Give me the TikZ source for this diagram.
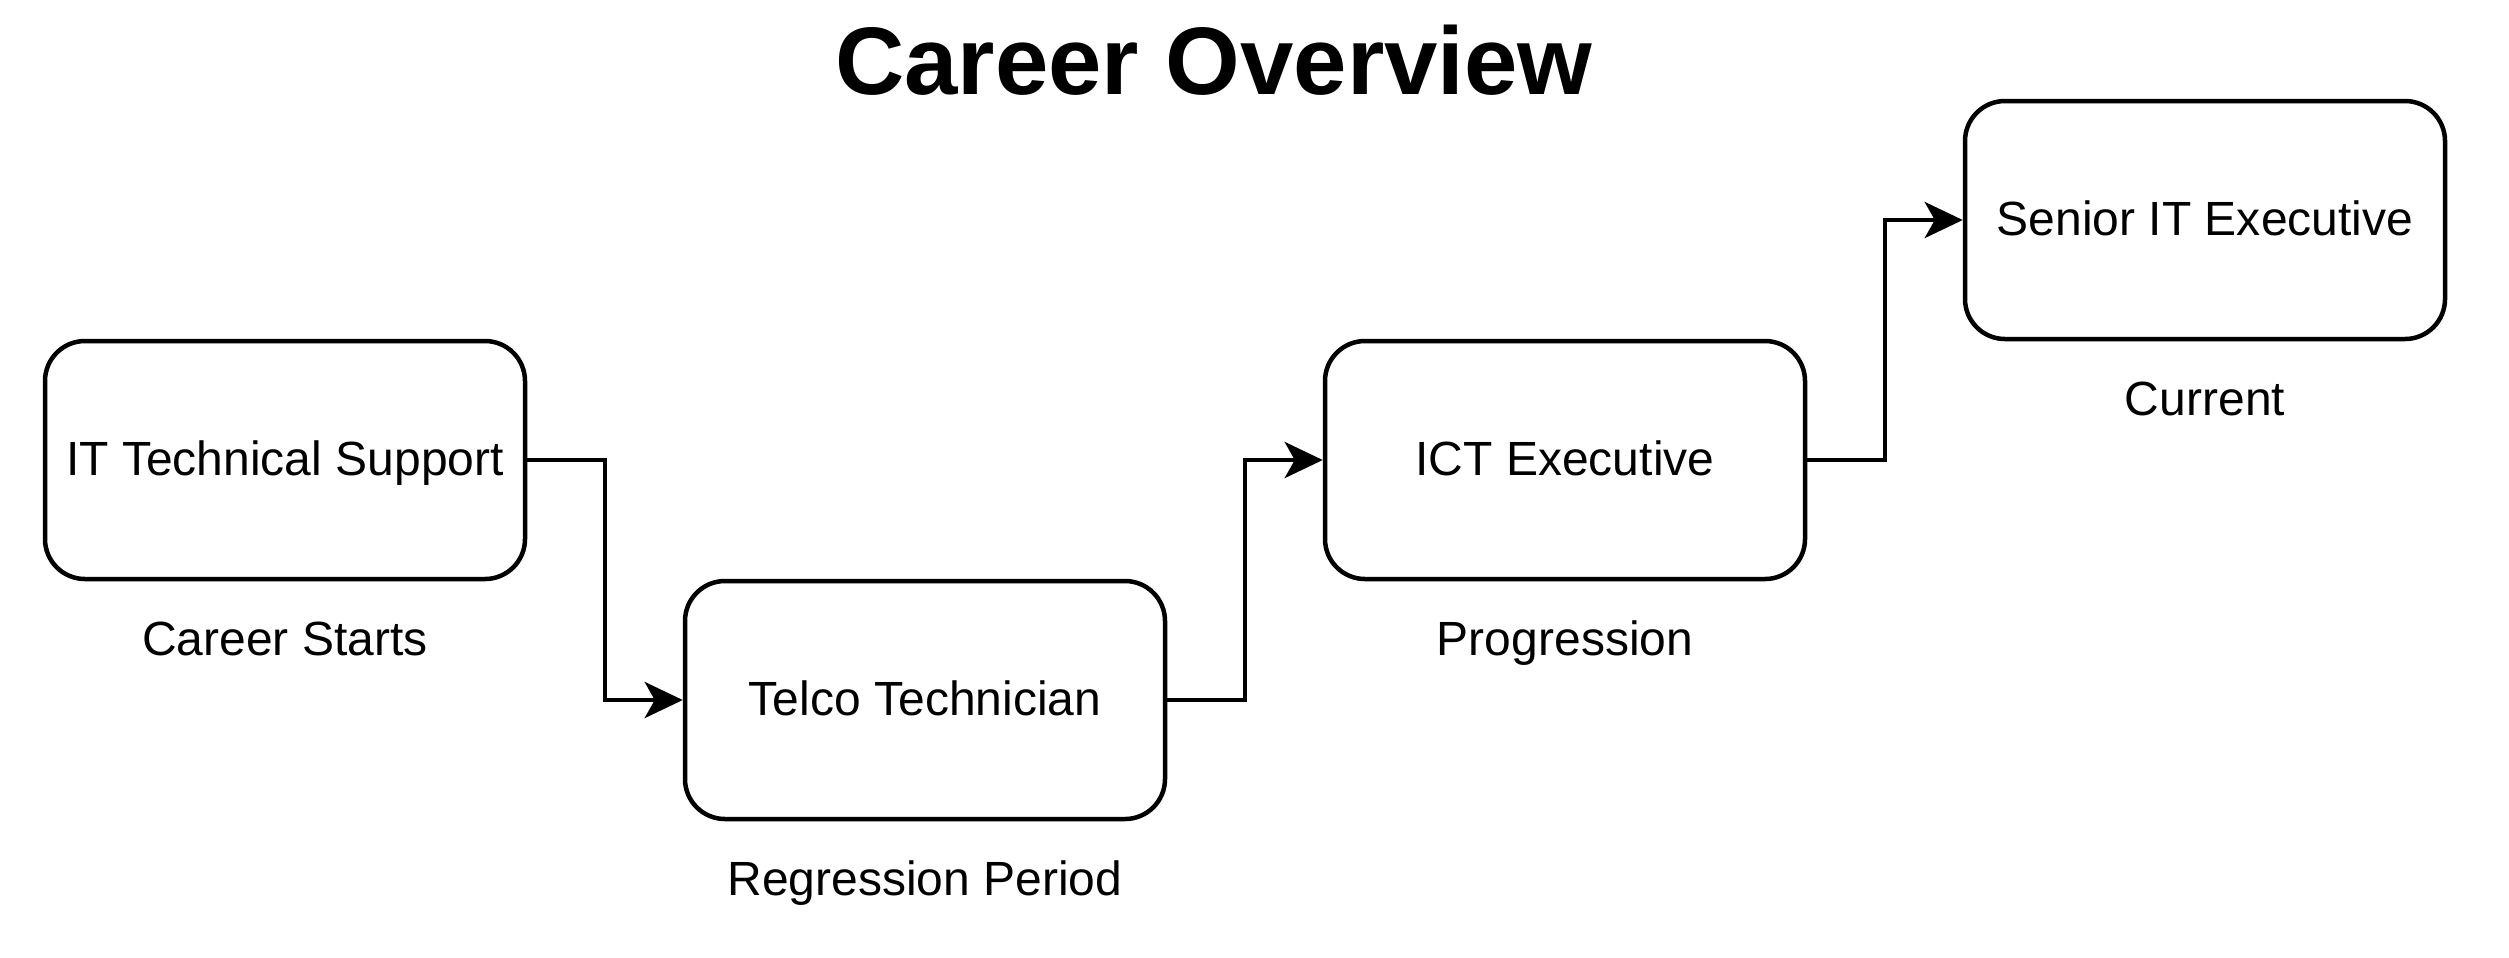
\documentclass[tikz,border=0pt]{standalone}
\usepackage{fontspec}
\setmainfont{Liberation Sans}
\usetikzlibrary{calc,positioning,arrows.meta}
\tikzset{
	stage/.style={draw, line width=0.045cm, rounded corners=0.4cm, minimum width=4.8cm, minimum height=2.38cm, inner sep=0pt, text height=0.31cm, text depth=0pt, font=\fontsize{13.66}{16}\selectfont},
	phase/.style={inner sep=0pt, text height=0.34cm, text depth=0pt, font=\fontsize{13.66}{16}\selectfont},
	link/.style={line width=0.045cm, -{Stealth[length=0.38cm, width=0.36cm, inset=0.1cm]}}
}

\begin{document}
\begin{tikzpicture}
			%%%%% START %%%%%
			
			\useasboundingbox (0, 0) rectangle (25.09, -9.57);
			
			\node[inner sep=0pt, text height=0.69cm, text depth=0pt, font=\fontsize{27.3}{32}\selectfont\bfseries] (title) at (12.14, -0.60) {Career Overview};
			
			\node[stage] (its) at (2.85, -4.60) {IT Technical Support};
			\node[stage] (telco) at (9.25, -7.00) {Telco Technician};
			\node[stage] (ict) at (15.65, -4.60) {ICT Executive};
			\node[stage] (senior) at (22.05, -2.20) {Senior IT Executive};
			
			\node[phase, below=0.40cm of its] (starts) {Career Starts};
			\node[phase, below=0.40cm of telco] (regress) {Regression Period};
			\node[phase, below=0.40cm of ict] (progress) {Progression};
			\node[phase, below=0.40cm of senior] (current) {Current};
			
			\draw[link] (its.east) -| ($(its.east)!0.5!(telco.west)$) |- (telco.west);
			\draw[link] (telco.east) -| ($(telco.east)!0.5!(ict.west)$) |- (ict.west);
			\draw[link] (ict.east) -| ($(ict.east)!0.5!(senior.west)$) |- (senior.west);
			
			%%%%% END %%%%%
\end{tikzpicture}
\end{document}
